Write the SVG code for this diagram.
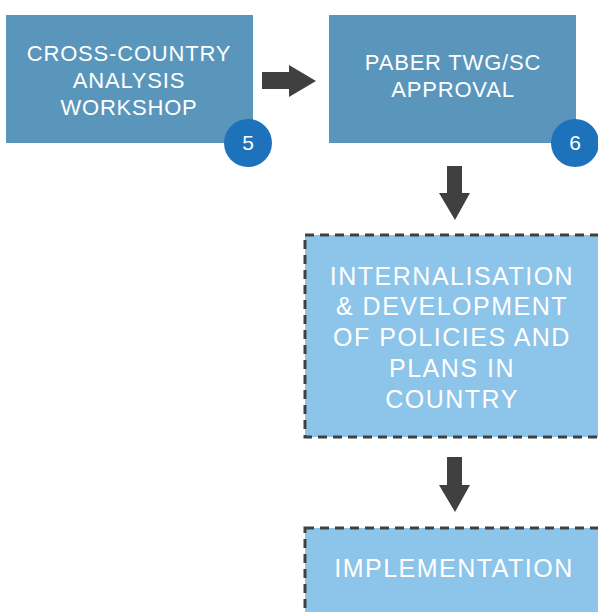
<svg xmlns="http://www.w3.org/2000/svg" width="598" height="612" viewBox="0 0 598 612">
<style>
.dark{fill:#5a96bb}
.light{fill:#8dc4ea;stroke:#404040;stroke-width:3;stroke-dasharray:9 6}
.badge{fill:#1e72bc}
.t{font-family:"Liberation Sans",Arial,sans-serif;fill:#ffffff;text-anchor:middle}
.t1{font-size:22px;letter-spacing:0.8px}
.t2{font-size:25px;letter-spacing:1.5px}
.num{font-size:21px}
.arr{fill:#404040}
</style>
<rect width="598" height="612" fill="#ffffff"/>
<g id="connectors">
<polygon class="arr" points="262,72 289,72 289,65 316,81 289,97 289,89 262,89"/>
<polygon class="arr" points="447,166 462,166 462,193 470,193 455,220 439,193 447,193"/>
<polygon class="arr" points="447,457 462,457 462,485 470,485 455,512 439,485 447,485"/>
</g>
<g id="node5">
<rect class="dark" x="6" y="15" width="247" height="128"/>
<text class="t t1" x="129" y="61">CROSS-COUNTRY</text>
<text class="t t1" x="129" y="88">ANALYSIS</text>
<text class="t t1" x="129" y="115">WORKSHOP</text>
<circle class="badge" cx="248" cy="143" r="24"/>
<text class="t num" x="248" y="150">5</text>
</g>
<g id="node6">
<rect class="dark" x="329" y="15" width="247" height="128"/>
<text class="t t1" x="453" y="70">PABER TWG/SC</text>
<text class="t t1" x="453" y="97">APPROVAL</text>
<circle class="badge" cx="575" cy="143" r="24"/>
<text class="t num" x="575" y="150">6</text>
</g>
<g id="internalisation">
<rect class="light" x="305" y="235" width="300" height="202"/>
<text class="t t2" x="452" y="285">INTERNALISATION</text>
<text class="t t2" x="452" y="315">&amp; DEVELOPMENT</text>
<text class="t t2" x="452" y="346">OF POLICIES AND</text>
<text class="t t2" x="452" y="377">PLANS IN</text>
<text class="t t2" x="452" y="408">COUNTRY</text>
</g>
<g id="implementation">
<rect class="light" x="305" y="528" width="300" height="100"/>
<text class="t t2" x="454" y="577">IMPLEMENTATION</text>
</g>
</svg>
